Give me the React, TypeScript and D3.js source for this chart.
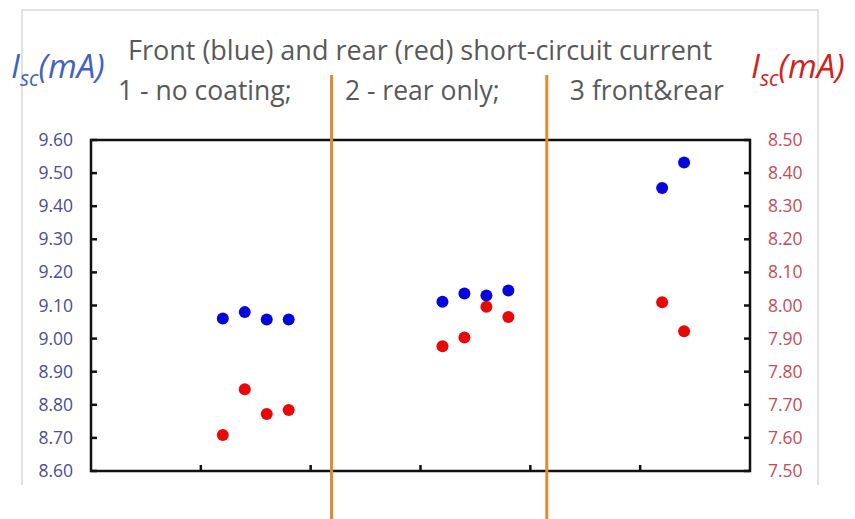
import { useMemo } from 'react';
import * as d3 from 'd3';

// sample position along the x axis (Excel scatter x values)
const sampleX = [1, 2, 3, 4, 11, 12, 13, 14, 21, 22];
// front short-circuit current, left axis (mA)
const frontIsc = [9.061, 9.08, 9.058, 9.058, 9.111, 9.136, 9.13, 9.145, 9.455, 9.532];
// rear short-circuit current, right axis (mA)
const rearIsc = [7.609, 7.747, 7.672, 7.684, 7.877, 7.903, 7.996, 7.965, 8.01, 7.922];

const leftTicks = [8.6, 8.7, 8.8, 8.9, 9.0, 9.1, 9.2, 9.3, 9.4, 9.5, 9.6];
const rightTicks = [7.5, 7.6, 7.7, 7.8, 7.9, 8.0, 8.1, 8.2, 8.3, 8.4, 8.5];
const xTicks = [0, 5, 10, 15, 20];

// group separators (x units) and group captions
const separators = [5.95, 15.75];
const groupLabels = ['1 - no coating;', '2 - rear only;', '3 front&rear'];
const groupLabelX = [-3.77, 6.56, 16.8];

const title = 'Front (blue) and rear (red) short-circuit current';

const width = 855;
const height = 519;
const marginLeft = 91;
const marginRight = 105;
const marginTop = 140;
const plotBottom = 471;

const font = '"Open Sans", "Noto Sans", sans-serif';

export default function App() {
    const { x, yL, yR } = useMemo(() => {
        const x = d3.scaleLinear().domain([-5, 25]).range([marginLeft, width - marginRight]);
        const yL = d3.scaleLinear().domain([8.6, 9.6]).range([plotBottom, marginTop]);
        const yR = d3.scaleLinear().domain([7.5, 8.5]).range([plotBottom, marginTop]);
        return { x, yL, yR };
    }, []);

    const x0 = x.range()[0];
    const x1 = x.range()[1];

    return (
        <svg width={width} height={height} style={{ position: 'absolute', left: 0, top: 0, background: 'white' }}>
            {/* outer chart-area frame */}
            <path d="M22,485 V10 H818 V485" fill="none" stroke="#d9d9d9" strokeWidth={1.5} />

            {/* title + captions */}
            <text x={420} y={60} textAnchor="middle" fontFamily={font} fontSize={27} fill="#595959">{title}</text>
            {groupLabels.map((g, i) => (
                <text key={g} x={x(groupLabelX[i])} y={100} fontFamily={font} fontSize={26.5} fill="#595959">{g}</text>
            ))}

            {/* axis titles */}
            <text x={11} y={78} fontFamily={font} fontStyle="italic" fontSize={33} fill="#3f62c4">
                I<tspan fontSize={21} dy={8}>sc</tspan><tspan dy={-8}>(mA)</tspan>
            </text>
            <text x={751} y={78} fontFamily={font} fontStyle="italic" fontSize={33} fill="#d42020">
                I<tspan fontSize={21} dy={8}>sc</tspan><tspan dy={-8}>(mA)</tspan>
            </text>

            {/* plot box */}
            <rect x={x0} y={marginTop} width={x1 - x0} height={plotBottom - marginTop} fill="none" stroke="#111" strokeWidth={2.5} />

            {/* left ticks */}
            {leftTicks.map((t) => (
                <g key={'l' + t}>
                    <line x1={x0} x2={x0 + 6} y1={yL(t)} y2={yL(t)} stroke="#111" strokeWidth={2.5} />
                    <text x={73} y={yL(t) + 6} textAnchor="end" fontFamily={font} fontSize={17.5} fill="#4b4b96">{t.toFixed(2)}</text>
                </g>
            ))}
            {/* right ticks */}
            {rightTicks.map((t) => (
                <g key={'r' + t}>
                    <line x1={x1 - 6} x2={x1} y1={yR(t)} y2={yR(t)} stroke="#111" strokeWidth={2.5} />
                    <text x={768} y={yR(t) + 6} fontFamily={font} fontSize={17.5} fill="#c84a55">{t.toFixed(2)}</text>
                </g>
            ))}
            {/* bottom ticks */}
            {xTicks.map((t) => (
                <line key={'x' + t} x1={x(t)} x2={x(t)} y1={plotBottom} y2={plotBottom - 6} stroke="#111" strokeWidth={2.5} />
            ))}

            {/* separators */}
            {separators.map((s) => (
                <line key={'s' + s} x1={x(s)} x2={x(s)} y1={75} y2={height} stroke="#e08a32" strokeWidth={3} />
            ))}

            {/* points */}
            {sampleX.map((sx, i) => (
                <circle key={'f' + i} cx={x(sx)} cy={yL(frontIsc[i])} r={6} fill="#0606dc" />
            ))}
            {sampleX.map((sx, i) => (
                <circle key={'b' + i} cx={x(sx)} cy={yR(rearIsc[i])} r={6} fill="#e80808" />
            ))}
        </svg>
    );
}
